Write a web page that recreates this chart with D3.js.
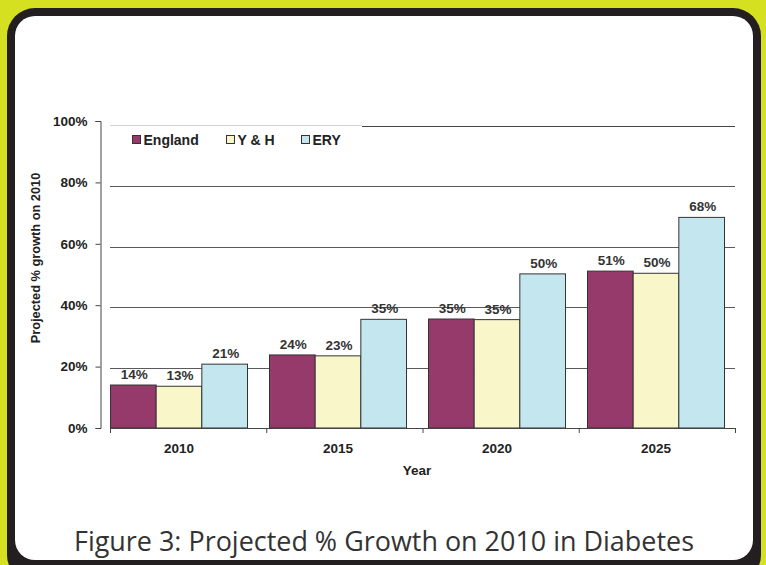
<!DOCTYPE html>
<html><head><meta charset="utf-8">
<script src="https://cdn.jsdelivr.net/npm/d3@7"></script>
<style>html,body{margin:0;padding:0;background:#d5e021;}svg{display:block;}</style>
</head><body>
<svg id="chart" width="766" height="565"></svg>
<script>
const years = ["2010", "2015", "2020", "2025"];
const seriesNames = ["England", "Y & H", "ERY"];
const englandValues = [14.0, 23.8, 35.5, 51.1];
const yhValues = [13.6, 23.5, 35.3, 50.4];
const eryValues = [20.8, 35.4, 50.2, 68.6];
const englandLabels = ["14%", "24%", "35%", "51%"];
const yhLabels = ["13%", "23%", "35%", "50%"];
const eryLabels = ["21%", "35%", "50%", "68%"];
const yTickValues = [0, 20, 40, 60, 80, 100];
const seriesColors = ["#953a6a", "#f9f7c9", "#c4e7ef"];

const series = [
  {name: seriesNames[0], values: englandValues, labels: englandLabels, color: seriesColors[0]},
  {name: seriesNames[1], values: yhValues, labels: yhLabels, color: seriesColors[1]},
  {name: seriesNames[2], values: eryValues, labels: eryLabels, color: seriesColors[2]}
];

const svg = d3.select("#chart");
const FONT = "'Liberation Sans', Arial, sans-serif";

// frame
svg.append("rect").attr("x", 0).attr("y", 0).attr("width", 766).attr("height", 565).attr("fill", "#d5e021");
svg.append("rect").attr("x", 7).attr("y", 8).attr("width", 754).attr("height", 575).attr("rx", 28).attr("fill", "#231f20");
svg.append("rect").attr("x", 15).attr("y", 16).attr("width", 738).attr("height", 544).attr("rx", 20).attr("fill", "#ffffff");

// scales
const x0 = d3.scaleBand().domain(years).range([110.5, 724.5]).paddingInner(22 / 159).paddingOuter(0);
const x1 = d3.scaleBand().domain(seriesNames).range([0, x0.bandwidth()]);
const xAxisScale = d3.scaleBand().domain(years).range([110, 735]);
const yBar = d3.scaleLinear().domain([0, 100]).range([428, 121]);
const yGrid = d3.scaleLinear().domain([0, 100]).range([428, 126]);

// gridlines
const grid = svg.append("g");
yTickValues.filter(v => v > 0 && v < 100).forEach(v => {
  grid.append("line").attr("x1", 110).attr("x2", 735)
    .attr("y1", Math.round(yGrid(v)) + 0.5).attr("y2", Math.round(yGrid(v)) + 0.5)
    .attr("stroke", "#5a5a5a").attr("stroke-width", 1);
});
grid.append("line").attr("x1", 110).attr("x2", 362)
  .attr("y1", Math.round(yGrid(100)) - 0.5).attr("y2", Math.round(yGrid(100)) - 0.5)
  .attr("stroke", "#d4d4d4").attr("stroke-width", 1);
grid.append("line").attr("x1", 362).attr("x2", 735)
  .attr("y1", Math.round(yGrid(100)) + 0.5).attr("y2", Math.round(yGrid(100)) + 0.5)
  .attr("stroke", "#444").attr("stroke-width", 1);

// bars
const groups = svg.append("g").selectAll("g").data(years).join("g")
  .attr("transform", d => `translate(${x0(d)},0)`);
groups.each(function(year, i) {
  const g = d3.select(this);
  series.forEach(s => {
    const v = s.values[i];
    g.append("rect")
      .attr("x", x1(s.name)).attr("y", yBar(v))
      .attr("width", x1.bandwidth()).attr("height", yBar(0) - yBar(v))
      .attr("fill", s.color).attr("stroke", "#333").attr("stroke-width", 1);
    g.append("text")
      .attr("x", x1(s.name) + x1.bandwidth() / 2 + 1).attr("y", yBar(v) - 6)
      .attr("text-anchor", "middle").attr("font-family", FONT).attr("font-weight", "bold")
      .attr("font-size", 13.5).attr("fill", "#333").text(s.labels[i]);
  });
});

// y axis (drawn with d3 axis)
const yAxis = d3.axisLeft(yBar).tickValues(yTickValues).tickFormat(d => d + "%").tickSize(5).tickPadding(8);
const yAxisG = svg.append("g").attr("transform", "translate(100.5,0)").call(yAxis);
yAxisG.select(".domain").attr("stroke", "#444");
yAxisG.selectAll(".tick line").attr("stroke", "#444");
yAxisG.selectAll(".tick text").attr("font-family", FONT).attr("font-weight", "bold")
  .attr("font-size", 13.5).attr("fill", "#222");

// x axis
const xg = svg.append("g");
xg.append("line").attr("x1", 110).attr("x2", 735).attr("y1", 428.5).attr("y2", 428.5).attr("stroke", "#444");
const boundaries = years.map(y => xAxisScale(y)).concat([xAxisScale.range()[1]]);
boundaries.forEach(b => {
  xg.append("line").attr("x1", b + 0.5).attr("x2", b + 0.5).attr("y1", 428).attr("y2", 433).attr("stroke", "#444");
});
xg.selectAll("text.cat").data(years).join("text").attr("class", "cat")
  .attr("x", d => x0(d) + x0.bandwidth() / 2).attr("y", 453)
  .attr("text-anchor", "middle").attr("font-family", FONT).attr("font-weight", "bold")
  .attr("font-size", 13.5).attr("fill", "#222").text(d => d);

// axis titles
svg.append("text").attr("x", 417).attr("y", 475).attr("text-anchor", "middle")
  .attr("font-family", FONT).attr("font-weight", "bold").attr("font-size", 13.5).attr("fill", "#222").text("Year");
svg.append("text").attr("transform", "translate(40,258) rotate(-90)").attr("text-anchor", "middle")
  .attr("font-family", FONT).attr("font-weight", "bold").attr("font-size", 12.8).attr("fill", "#222")
  .text("Projected % growth on 2010");

// legend
const legendX = [132, 226, 301];
const legend = svg.append("g");
series.forEach((s, i) => {
  legend.append("rect").attr("x", legendX[i] + 0.5).attr("y", 135.5).attr("width", 8).attr("height", 8)
    .attr("fill", s.color).attr("stroke", "#333").attr("stroke-width", 1);
  legend.append("text").attr("x", legendX[i] + 11.5).attr("y", 144.5)
    .attr("font-family", FONT).attr("font-weight", "bold").attr("font-size", 14).attr("fill", "#222").text(s.name);
});

// caption
svg.append("text").attr("x", 384).attr("y", 551).attr("text-anchor", "middle")
  .attr("font-family", "'Open Sans', 'Noto Sans', sans-serif").attr("font-size", 27)
  .attr("textLength", 620).attr("lengthAdjust", "spacingAndGlyphs")
  .attr("fill", "#333").text("Figure 3: Projected % Growth on 2010 in Diabetes");
</script>
</body></html>
